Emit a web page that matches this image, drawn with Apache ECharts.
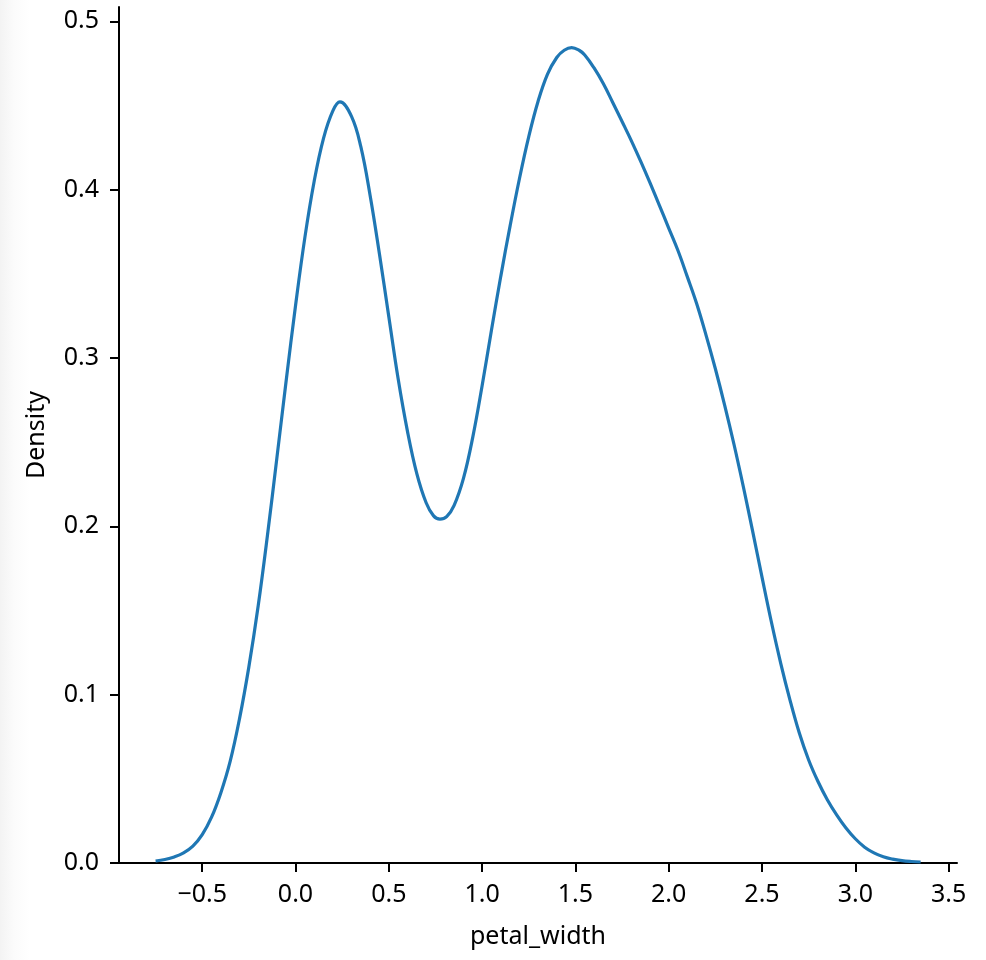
<!DOCTYPE html>
<html>
<head>
<meta charset="utf-8">
<script src="https://cdn.jsdelivr.net/npm/echarts@6/dist/echarts.min.js"></script>
<style>
  html, body { margin: 0; padding: 0; background: #ffffff; }
  body { background: linear-gradient(to right, #f3f3f3 0px, #fbfbfb 14px, #ffffff 30px); }
  #chart { width: 986px; height: 960px; }
</style>
</head>
<body>
<div id="chart"></div>
<script>
// KDE curve of petal_width
const petalWidth = [
  -0.75, -0.70, -0.65, -0.60, -0.55, -0.50, -0.45, -0.40, -0.35, -0.30,
  -0.25, -0.20, -0.15, -0.10, -0.05, 0.00, 0.05, 0.10, 0.15, 0.20,
  0.238, 0.30, 0.35, 0.40, 0.45, 0.50, 0.55, 0.60, 0.65, 0.70,
  0.74, 0.774, 0.81, 0.85, 0.90, 0.95, 1.00, 1.05, 1.10, 1.15, 1.20,
  1.25, 1.30, 1.35, 1.40, 1.44, 1.48, 1.52, 1.55, 1.60, 1.65, 1.70,
  1.75, 1.80, 1.85, 1.90, 1.95, 2.00, 2.05, 2.10, 2.15, 2.20,
  2.25, 2.30, 2.35, 2.40, 2.45, 2.50, 2.55, 2.60, 2.65, 2.70,
  2.75, 2.80, 2.85, 2.90, 2.95, 3.00, 3.05, 3.10, 3.15, 3.20,
  3.25, 3.30, 3.35];
const density = [
  0.0012, 0.0021, 0.0036, 0.0060, 0.0100, 0.0168, 0.0272, 0.0418, 0.0605, 0.0858,
  0.1165, 0.1528, 0.1950, 0.2405, 0.2866, 0.3310, 0.3715, 0.4050, 0.4305, 0.4468,
  0.4521, 0.4435, 0.4255, 0.3964, 0.3616, 0.3245, 0.2876, 0.2564, 0.2313, 0.2140,
  0.2062, 0.2043, 0.2058, 0.2125, 0.2285, 0.2530, 0.2835, 0.3165, 0.3485, 0.3785, 0.4065,
  0.4315, 0.4525, 0.4685, 0.4785, 0.4828, 0.4844, 0.4828, 0.4800, 0.4723, 0.4629, 0.4518,
  0.4405, 0.4290, 0.4168, 0.4040, 0.3907, 0.3772, 0.3637, 0.3482, 0.3322, 0.3136,
  0.2936, 0.2719, 0.2486, 0.2235, 0.1970, 0.1698, 0.1433, 0.1188, 0.0968, 0.0772,
  0.0612, 0.0484, 0.0376, 0.0286, 0.0208, 0.0144, 0.0094, 0.0060, 0.0037, 0.0023,
  0.0014, 0.0009, 0.0006];
const xTickValues = [-0.5, 0.0, 0.5, 1.0, 1.5, 2.0, 2.5, 3.0, 3.5];
const xTickLabels = ['\u22120.5', '0.0', '0.5', '1.0', '1.5', '2.0', '2.5', '3.0', '3.5'];
const yTickValues = [0.0, 0.1, 0.2, 0.3, 0.4, 0.5];
const yTickLabels = ['0.0', '0.1', '0.2', '0.3', '0.4', '0.5'];
const xAxisName = 'petal_width';
const yAxisName = 'Density';

const FONT = '"Noto Sans", "DejaVu Sans", sans-serif';
const FS = 25;
const chart = echarts.init(document.getElementById('chart'), null, { renderer: 'canvas' });

function labelFor(values, labels) {
  return function (v) {
    for (let i = 0; i < values.length; i++) {
      if (Math.abs(values[i] - v) < 1e-6) return labels[i];
    }
    return '';
  };
}

const LINE_W = 2;

chart.setOption({
  animation: false,
  backgroundColor: 'transparent',
  grid: { left: 119, right: 29, top: 7, bottom: 97, containLabel: false },
  xAxis: {
    type: 'value',
    min: -0.946,
    max: 3.545,
    name: xAxisName,
    nameLocation: 'middle',
    nameGap: 61,
    nameTextStyle: { color: '#000', fontSize: FS, fontFamily: FONT },
    splitLine: { show: false },
    axisLine: { show: true, onZero: false, lineStyle: { color: '#000', width: LINE_W } },
    axisTick: { show: true, length: 9, customValues: xTickValues, lineStyle: { color: '#000', width: LINE_W } },
    axisLabel: {
      customValues: xTickValues,
      formatter: labelFor(xTickValues, xTickLabels),
      color: '#000', fontSize: FS, fontFamily: FONT, margin: 19
    }
  },
  yAxis: {
    type: 'value',
    min: 0,
    max: 0.5085,
    name: yAxisName,
    nameLocation: 'middle',
    nameGap: 70,
    nameTextStyle: { color: '#000', fontSize: FS, fontFamily: FONT },
    splitLine: { show: false },
    axisLine: { show: true, onZero: false, lineStyle: { color: '#000', width: LINE_W } },
    axisTick: { show: true, length: 9, customValues: yTickValues, lineStyle: { color: '#000', width: LINE_W } },
    axisLabel: {
      customValues: yTickValues,
      formatter: labelFor(yTickValues, yTickLabels),
      color: '#000', fontSize: FS, fontFamily: FONT, margin: 20
    }
  },
  series: [{
    type: 'line',
    data: petalWidth.map((x, i) => [x, density[i]]),
    smooth: 0.4,
    showSymbol: false,
    clip: false,
    lineStyle: { color: '#1f77b4', width: 3.2 },
    itemStyle: { color: '#1f77b4' }
  }]
});
</script>
</body>
</html>
